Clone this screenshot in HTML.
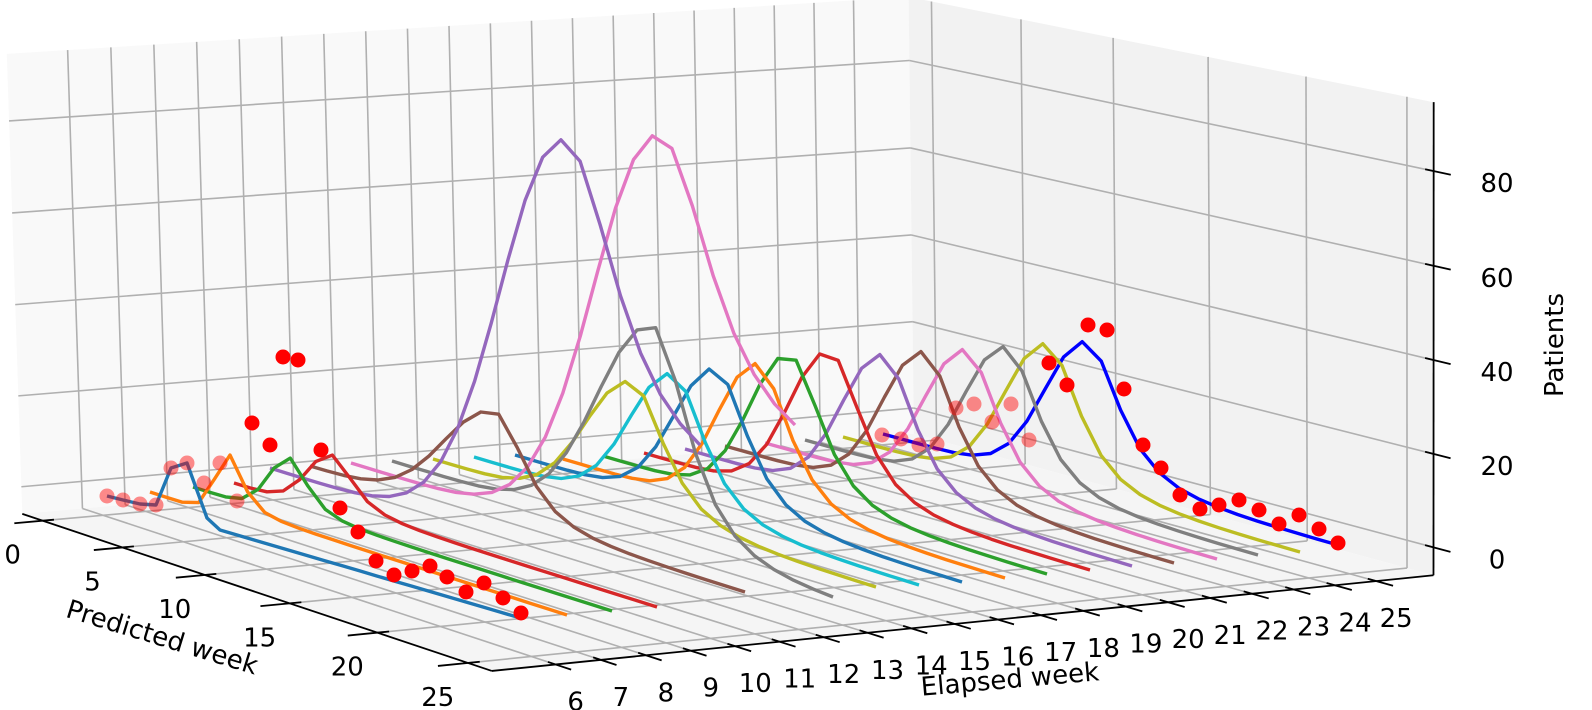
<!DOCTYPE html>
<html><head><meta charset="utf-8">
<style>
html,body{margin:0;padding:0;background:#fff;}
svg{display:block;}
text{font-family:"DejaVu Sans","Liberation Sans",sans-serif;fill:#000;}
</style></head>
<body>
<svg id="s" width="1592" height="710" viewBox="0 0 1592 710" xmlns="http://www.w3.org/2000/svg">
<rect width="1592" height="710" fill="#fff"/>
<g id="panes"></g><g id="grid"></g><g id="axes"></g><g id="lines"></g><g id="dots"></g><g id="labels"></g>
<text x="162" y="638" font-size="26" text-anchor="middle" dominant-baseline="central" transform="rotate(17 162 638)">Predicted week</text>
<text x="1010" y="680" font-size="26" text-anchor="middle" dominant-baseline="central" transform="rotate(-5 1010 680)">Elapsed week</text>
<text x="1555" y="345" font-size="26" text-anchor="middle" dominant-baseline="central" transform="rotate(-90 1555 345)">Patients</text>
</svg>
<script>
(function(){
var NS="http://www.w3.org/2000/svg";
function U(p){return (p+1.3)/27.6;} function V(e){return (e-4.6)/21.8;} function W(z){return (z+6)/100.5;}
var C=[[0,0,0,22,520],[1,0,0,491,664],[1,1,0,1432,583],[0,1,0,912,423],[0,1,1,912,4],[1,1,1,1432,97],[0,0,1,4,52],
[U(0),0,0,43,529],[U(25),0,0,470,661],[1,V(6),0,557,659],[1,V(25),0,1380,588],[1,1,W(0),1432,554],[1,1,W(80),1432,168],[0,1,W(0),912,398],[0,1,W(80),912,63]];
var N=11,M=[],b=[],i,j,k;
for(i=0;i<N;i++){M.push(new Array(N).fill(0));b.push(0);}
function addRow(r,rhs){for(var a=0;a<N;a++){for(var c=0;c<N;c++)M[a][c]+=r[a]*r[c];b[a]+=r[a]*rhs;}}
C.forEach(function(q){var X=q[0],Y=q[1],Z=q[2],x=q[3],y=q[4];
addRow([X,Y,Z,1,0,0,0,0,-x*X,-x*Y,-x*Z],x);
addRow([0,0,0,0,X,Y,Z,1,-y*X,-y*Y,-y*Z],y);});
for(i=0;i<N;i++){var mx=i;for(j=i+1;j<N;j++)if(Math.abs(M[j][i])>Math.abs(M[mx][i]))mx=j;
var t=M[i];M[i]=M[mx];M[mx]=t;t=b[i];b[i]=b[mx];b[mx]=t;
for(j=i+1;j<N;j++){var f=M[j][i]/M[i][i];for(k=i;k<N;k++)M[j][k]-=f*M[i][k];b[j]-=f*b[i];}}
var h=new Array(N);
for(i=N-1;i>=0;i--){var s=b[i];for(k=i+1;k<N;k++)s-=M[i][k]*h[k];h[i]=s/M[i][i];}
function P(u,v,w){var d=h[8]*u+h[9]*v+h[10]*w+1;return [(h[0]*u+h[1]*v+h[2]*w+h[3])/d,(h[4]*u+h[5]*v+h[6]*w+h[7])/d];}
function D(p,e,z){return P(U(p),V(e),W(z));}
function inv(e,x,y){var p=10,z=10;for(var it=0;it<30;it++){var a=D(p,e,z),ap=D(p+0.01,e,z),az=D(p,e,z+0.01);
var j11=(ap[0]-a[0])/0.01,j12=(az[0]-a[0])/0.01,j21=(ap[1]-a[1])/0.01,j22=(az[1]-a[1])/0.01;
var rx=x-a[0],ry=y-a[1],det=j11*j22-j12*j21;p+=(j22*rx-j12*ry)/det;z+=(-j21*rx+j11*ry)/det;}return {p:p,z:z};}
function el(tag,attrs,parent){var e=document.createElementNS(NS,tag);for(var a in attrs)e.setAttribute(a,attrs[a]);document.getElementById(parent).appendChild(e);return e;}
function poly(pts){return pts.map(function(q){return q[0].toFixed(1)+","+q[1].toFixed(1);}).join(" ");}
function line(a,bb,col,w,g){el("line",{x1:a[0],y1:a[1],x2:bb[0],y2:bb[1],stroke:col,"stroke-width":w},g);}
el("polygon",{points:poly([P(0,0,0),P(0,1,0),P(0,1,1),P(0,0,1)]),fill:"#f9f9f9"},"panes");
el("polygon",{points:poly([P(0,1,0),P(1,1,0),P(1,1,1),P(0,1,1)]),fill:"#f2f2f2"},"panes");
el("polygon",{points:poly([P(0,0,0),P(1,0,0),P(1,1,0),P(0,1,0)]),fill:"#f5f5f5"},"panes");
var GC="#b0b0b0",GW=1.6;
var pt=[0,5,10,15,20,25],et=[],zt=[0,20,40,60,80];for(i=6;i<=25;i++)et.push(i);
pt.forEach(function(p){var u=U(p);line(P(u,0,0),P(u,1,0),GC,GW,"grid");line(P(u,1,0),P(u,1,1),GC,GW,"grid");});
et.forEach(function(e){var v=V(e);line(P(0,v,0),P(1,v,0),GC,GW,"grid");line(P(0,v,0),P(0,v,1),GC,GW,"grid");});
zt.forEach(function(z){var w=W(z);line(P(0,0,w),P(0,1,w),GC,GW,"grid");line(P(0,1,w),P(1,1,w),GC,GW,"grid");});
line(P(0,0,0),P(1,0,0),"#000",1.8,"axes");line(P(1,0,0),P(1,1,0),"#000",1.8,"axes");line(P(1,1,0),P(1,1,1),"#000",1.8,"axes");
function txt(x,y,s){var t=el("text",{x:x,y:y,"font-size":26,"text-anchor":"middle","dominant-baseline":"central"},"labels");t.textContent=s;}
pt.forEach(function(p){var u=U(p);line(P(u,0.012,0),P(u,-0.03,0),"#000",1.8,"axes");var q=P(u,0,0);txt(q[0]-30,q[1]+35,String(p));});
et.forEach(function(e){var v=V(e);line(P(0.985,v,0),P(1.03,v,0),"#000",1.8,"axes");var q=P(1,v,0);txt(q[0]+20,q[1]+38,String(e));});
zt.forEach(function(z){var w=W(z);line(P(0.985,1,w),P(1.03,1,w),"#000",1.8,"axes");var q=P(1,1,w);txt(1497,q[1]+13,String(z));});
var tab=['#1f77b4','#ff7f0e','#2ca02c','#d62728','#9467bd','#8c564b','#e377c2','#7f7f7f','#bcbd22','#17becf'];
function pl(pts,col){el("polyline",{points:poly(pts),fill:"none",stroke:col,"stroke-width":3.4,"stroke-linejoin":"round","stroke-linecap":"butt"},"lines");}
function curve(e,col,S,Mk,E,sL,sR){var a=inv(e,S[0],S[1]),m=inv(e,Mk[0],Mk[1]),n=inv(e,E[0],E[1]);
function g(d){return Math.exp(-d*d/(2*sL*sL));}function hh(d){return Math.pow(1+(d/sR)*(d/sR),-1.5);}
var g0=g(a.p-m.p),h1=hh(n.p-m.p),pts=[];
for(var kk=0;kk<=24;kk++){var p=a.p+(n.p-a.p)*kk/24,z;
if(p<m.p)z=a.z+(m.z-a.z)*(g(p-m.p)-g0)/(1-g0);else z=n.z+(m.z-n.z)*(hh(p-m.p)-h1)/(1-h1);
pts.push(D(p,e,z));}
pl(pts,col);}
var defs=[
[25,'#0000ff',[883,434],[1087,342],[1338,545],2.3,2.6],
[24,tab[8],[843,437],[1047,344],[1300,552],2.3,2.6],
[23,tab[7],[805,440],[1006,347],[1258,555],2.3,2.6],
[22,tab[6],[765,443],[966,350],[1217,559],2.3,2.6],
[21,tab[5],[725,446],[924,352],[1174,563],2.3,2.6],
[20,tab[4],[685,449],[883,355],[1132,566],2.3,2.6],
[19,tab[3],[644,453],[830,352],[1090,570],2.3,2.6],
[18,tab[2],[603,456],[790,355],[1047,574],2.3,2.6],
[17,tab[1],[563,459],[758,364],[1005,578],2.3,2.6],
[16,tab[0],[515,455],[716,369],[962,582],2.4,2.6],
[15,tab[9],[474,457],[673,374],[919,585],2.5,2.6],
[14,tab[8],[433,459],[632,382],[876,587],2.7,2.7],
[13,tab[7],[392,461],[653,326],[833,597],3.2,2.8],
[12,tab[6],[351,463],[660,135],[795,425],3.8,4.0],
[11,tab[5],[310,466],[495,412],[745,592],3.0,2.5],
[10,tab[4],[270,468],[565,140],[700,445],3.8,4.0],
[9,tab[3],[234,483],[332,455],[657,607],1.5,1.8],
[8,tab[2],[193,487],[290,458],[612,611],1.3,1.5],
[7,tab[1],[150,492],[230,455],[567,615],0.9,1.1]];
defs.forEach(function(d){curve(d[0],d[1],d[2],d[3],d[4],d[5],d[6]);});
var b6=[[107,496],[123,500],[140,504],[156,505],[171,468],[187,463],[207,518],[220,530]];
for(i=1;i<=17;i++){var t=i/17;b6.push([220+(517-220)*t,530+(617-530)*t]);}
pl(b6,tab[0]);
var d6=[[107,496],[123,500],[140,504],[156,505],[171,468],[187,463],[204,483],[220,463],[237,501],[252,423],[270,445],[283,357],[298,360],[321,450],[340,508],[358,532],[376,561],[394,575],[412,571],[430,566],[447,577],[466,592],[484,583],[503,598],[521,613]];
var d25=[[882,435],[901,439],[919,445],[937,444],[956,408],[974,404],[992,422],[1011,404],[1029,440],[1049,363],[1067,385],[1088,325],[1107,330],[1124,389],[1143,445],[1161,468],[1180,495],[1200,509],[1219,505],[1239,500],[1259,510],[1279,524],[1299,515],[1319,529],[1338,543]];
[d25,d6].forEach(function(L){L.forEach(function(q,idx){el("circle",{cx:q[0],cy:q[1],r:7.5,fill:"#ff0000","fill-opacity":idx<9?0.45:1},"dots");});});
})();
</script>
</body></html>
